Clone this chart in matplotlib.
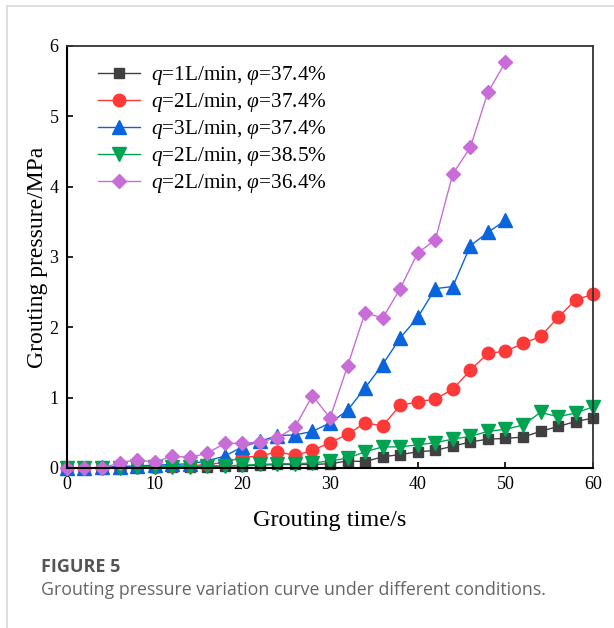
import numpy as np
import matplotlib
matplotlib.use('Agg')
import matplotlib.pyplot as plt
from matplotlib.lines import Line2D

plt.rcParams['font.family'] = 'Liberation Serif'
plt.rcParams['mathtext.fontset'] = 'custom'
plt.rcParams['mathtext.rm'] = 'Liberation Serif'
plt.rcParams['mathtext.it'] = 'Liberation Serif:italic'

# grouting time (s)
t60 = np.arange(0, 61, 2)
t50 = np.arange(0, 51, 2)

# grouting pressure (MPa)
p_q1_374 = [0, 0, 0, 0, 0.01, 0.01, 0.02, 0.02, 0.02, 0.03, 0.03, 0.04, 0.05, 0.05, 0.05, 0.06,
            0.10, 0.09, 0.16, 0.19, 0.23, 0.25, 0.31, 0.37, 0.41, 0.42, 0.44, 0.52, 0.59, 0.66, 0.71]
p_q2_374 = [0, 0, 0, 0.01, 0.01, 0.02, 0.03, 0.03, 0.05, 0.08, 0.15, 0.17, 0.23, 0.18, 0.25, 0.36,
            0.48, 0.64, 0.60, 0.89, 0.94, 0.98, 1.12, 1.39, 1.63, 1.66, 1.77, 1.87, 2.14, 2.39, 2.47]
p_q3_374 = [0, 0, 0.01, 0.02, 0.03, 0.04, 0.05, 0.06, 0.10, 0.17, 0.30, 0.38, 0.46, 0.47, 0.52, 0.64,
            0.82, 1.14, 1.47, 1.85, 2.14, 2.55, 2.58, 3.16, 3.35, 3.52]
p_q2_385 = [0, 0, 0, 0, 0.01, 0.02, 0.02, 0.02, 0.03, 0.03, 0.04, 0.05, 0.06, 0.06, 0.07, 0.10,
            0.14, 0.23, 0.30, 0.30, 0.33, 0.36, 0.41, 0.45, 0.52, 0.55, 0.61, 0.79, 0.73, 0.78, 0.87]
p_q2_364 = [0, 0, 0, 0.07, 0.12, 0.08, 0.17, 0.15, 0.21, 0.35, 0.35, 0.37, 0.43, 0.58, 1.03, 0.71,
            1.45, 2.21, 2.13, 2.55, 3.06, 3.24, 4.18, 4.56, 5.34, 5.77]

labels = [r'$q$=1L/min, $\varphi$=37.4%', r'$q$=2L/min, $\varphi$=37.4%',
          r'$q$=3L/min, $\varphi$=37.4%', r'$q$=2L/min, $\varphi$=38.5%',
          r'$q$=2L/min, $\varphi$=36.4%']

fig = plt.figure(figsize=(6.14, 6.28), dpi=100)
ax = fig.add_axes([0.109, 0.2548, 0.857, 0.672])

ax.plot(t60, p_q1_374, color='#404040', marker='s', ms=7.5, lw=1.0, label=labels[0], clip_on=False)
ax.plot(t60, p_q2_374, color='#ff3838', marker='o', ms=9, lw=1.0, label=labels[1], clip_on=False)
ax.plot(t50, p_q3_374, color='#0a64dc', marker='^', ms=9.5, lw=1.0, label=labels[2], clip_on=False)
ax.plot(t60, p_q2_385, color='#00a352', marker='v', ms=9.5, lw=1.0, label=labels[3], clip_on=False)
ax.plot(t50, p_q2_364, color='#c86dd7', marker='D', ms=7.5, lw=1.0, label=labels[4], clip_on=False)

ax.set_xlim(0, 60)
ax.set_ylim(0, 6)
ax.set_xticks(range(0, 61, 10))
ax.set_yticks(range(0, 7))
ax.tick_params(direction='in', length=4, width=1.2, labelsize=13, pad=6)
for s in ['left', 'bottom']:
    ax.spines[s].set_linewidth(1.5)
for s in ['top', 'right']:
    ax.spines[s].set_linewidth(1.3)
    ax.spines[s].set_color('#333333')

ax.set_xlabel('Grouting time/s', fontsize=17.5, labelpad=12)
ax.set_ylabel('Grouting pressure/MPa', fontsize=17, labelpad=1)

ax.legend(loc='upper left', bbox_to_anchor=(0.038, 0.982), frameon=False, fontsize=15.3,
          handlelength=2.0, handletextpad=0.5, labelspacing=0.19, borderpad=0)

# card border and caption
fig.add_artist(Line2D([7 / 614, 7 / 614], [0, 1 - 6 / 628], color='#d9d9d9', lw=1.2))
fig.add_artist(Line2D([7 / 614, 1], [1 - 6 / 628, 1 - 6 / 628], color='#d9d9d9', lw=1.2))
fig.text(41 / 614, 1 - 567 / 628, 'FIGURE 5', fontsize=13, fontweight='bold', color='#555555',
         family='Open Sans', va='center')
fig.text(41 / 614, 1 - 590 / 628, 'Grouting pressure variation curve under different conditions.',
         fontsize=12.8, color='#666666', family='Open Sans', va='center')

fig.savefig('out.png', dpi=100)
